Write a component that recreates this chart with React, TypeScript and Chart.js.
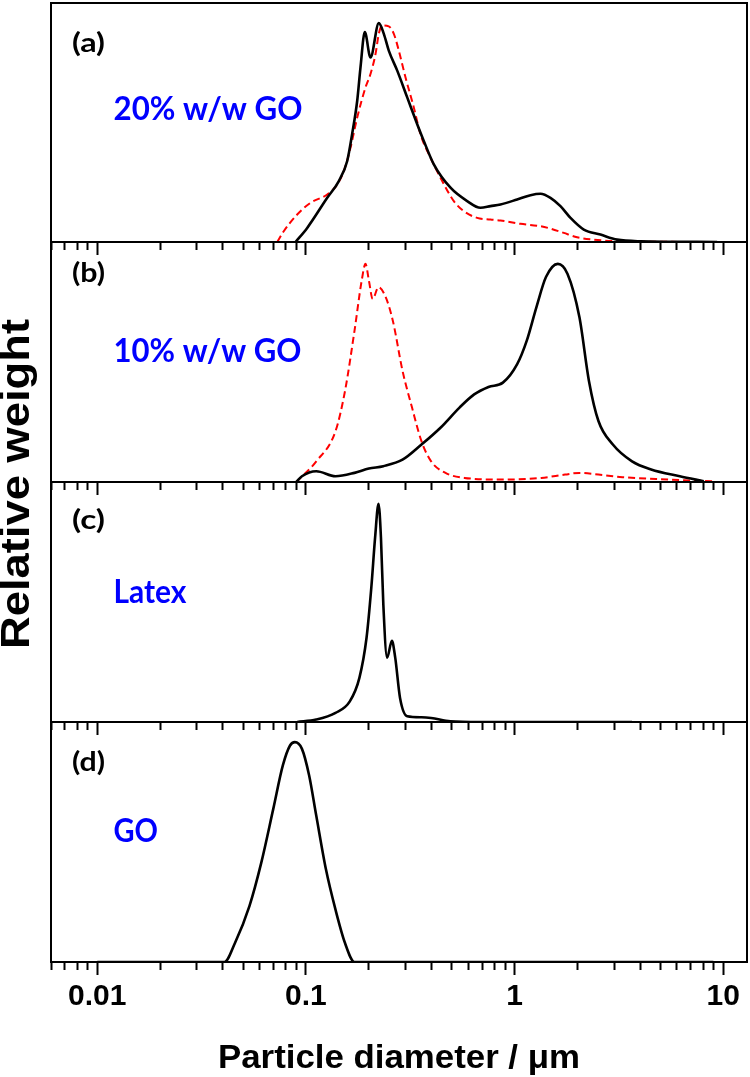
import React, { useEffect, useRef } from 'react';
import { Chart, registerables } from 'chart.js';

Chart.register(...registerables);

// ---------- axis ----------
const X_MIN = 0.006;
const X_MAX = 13;
const tickValues = [
  0.006, 0.007, 0.008, 0.009,
  0.01, 0.02, 0.03, 0.04, 0.05, 0.06, 0.07, 0.08, 0.09,
  0.1, 0.2, 0.3, 0.4, 0.5, 0.6, 0.7, 0.8, 0.9,
  1, 2, 3, 4, 5, 6, 7, 8, 9, 10,
];
const majorTicks = [0.01, 0.1, 1, 10];
const tickLabels = ['0.01', '0.1', '1', '10'];

// ---------- texts ----------
const panelTags = ['(a)', '(b)', '(c)', '(d)'];
const panelNames = ['20% w/w GO', '10% w/w GO', 'Latex', 'GO'];
const xTitle = 'Particle diameter / \u03bcm';
const yTitle = 'Relative weight';

// ---------- (a) 20% w/w GO ----------
const aSolidX = [0.0892, 0.1014, 0.1265, 0.1438, 0.1577, 0.1666, 0.1761, 0.1826, 0.1915, 0.2039, 0.2235, 0.2362, 0.2495, 0.2739, 0.3058, 0.3415, 0.3672, 0.4101, 0.4931, 0.5928, 0.6865, 0.7666, 0.8556, 1.029, 1.192, 1.331, 1.486, 1.659, 1.853, 2.146, 2.58, 3.101, 4.012, 9.35];
const aSolidY = [0, 5.9, 18.5, 25.5, 33.9, 45.3, 59.1, 73.1, 87.8, 77.2, 91.6, 87.1, 80.1, 71.7, 60.5, 49.3, 42.3, 32.5, 22.7, 17.1, 14.3, 15.0, 15.7, 17.8, 19.6, 20.2, 18.5, 15.0, 10.1, 5.2, 3.1, 1.0, 0.3, 0];
const aDashX = [0.0729, 0.0783, 0.0908, 0.1052, 0.1265, 0.1413, 0.1519, 0.1636, 0.1761, 0.193, 0.2039, 0.2156, 0.2235, 0.232, 0.2495, 0.2638, 0.2787, 0.3, 0.3289, 0.354, 0.3954, 0.4414, 0.5114, 0.5709, 0.6618, 0.7666, 0.8556, 1.067, 1.331, 1.486, 1.721, 1.994, 2.396, 3.101, 9.35];
const aDashY = [0, 4.5, 11.5, 16.4, 19.9, 24.1, 29.7, 39.5, 52.1, 64.7, 70.3, 78.7, 87.1, 90.6, 90.2, 87.1, 80.1, 68.9, 56.3, 45.1, 35.3, 26.9, 17.1, 12.9, 10.1, 9.4, 9.0, 7.6, 6.6, 5.6, 3.8, 2.0, 1.0, 0.3, 0];

// ---------- (b) 10% w/w GO ----------
const bSolidX = [0.0899, 0.0957, 0.1121, 0.1386, 0.1709, 0.2003, 0.2349, 0.2904, 0.3579, 0.4414, 0.5445, 0.6402, 0.7498, 0.8789, 1.029, 1.144, 1.272, 1.414, 1.612, 1.792, 2.046, 2.272, 2.523, 2.958, 3.656, 4.513, 6.194, 8.066];
const bSolidY = [0, 2.4, 4.5, 2.4, 3.8, 5.6, 6.6, 9.3, 15.6, 22.6, 31.0, 36.5, 39.6, 41.4, 49.1, 58.9, 72.8, 85.4, 90.9, 86.8, 68.6, 42.1, 25.4, 15.6, 8.6, 5.2, 2.4, 0.3];
const bDashX = [0.0899, 0.1121, 0.1386, 0.1539, 0.1709, 0.1851, 0.193, 0.2003, 0.2089, 0.2228, 0.2412, 0.2609, 0.2904, 0.3225, 0.3579, 0.3981, 0.4666, 0.5753, 0.8789, 1.341, 1.746, 2.046, 2.523, 3.289, 5.578, 8.967];
const bDashY = [0, 8.6, 21.2, 37.9, 63.0, 84.0, 90.9, 84.0, 76.3, 81.2, 77.0, 67.2, 46.3, 31.0, 17.0, 8.6, 3.8, 1.7, 1.0, 1.7, 3.1, 3.8, 3.1, 2.0, 1.0, 0.3];

// ---------- (c) Latex ----------
const cSolidX = [0.0908, 0.1121, 0.1386, 0.1623, 0.1804, 0.1952, 0.2058, 0.2146, 0.2228, 0.2288, 0.2349, 0.2449, 0.2583, 0.2679, 0.2825, 0.3058, 0.3579, 0.3981, 0.4919, 0.6828, 3.656];
const cSolidY = [0, 1.0, 3.8, 8.6, 18.4, 35.1, 56.1, 77.0, 90.9, 77.0, 49.1, 26.8, 33.8, 26.8, 10.0, 2.4, 2.0, 1.7, 0.3, 0, 0];

// ---------- (d) GO ----------
const dSolidX = [0.01, 0.0407, 0.0457, 0.0536, 0.0611, 0.0697, 0.0775, 0.0839, 0.0885, 0.0957, 0.1036, 0.1121, 0.1247, 0.1385, 0.1539, 0.1709, 8.97];
const dSolidY = [0, 0, 7.9, 23.3, 41.4, 63.7, 81.9, 90.2, 91.6, 88.8, 77.7, 60.9, 38.6, 21.9, 7.9, 0, 0];

const panelSeries = [
  [{ x: aSolidX, y: aSolidY, dashed: false }, { x: aDashX, y: aDashY, dashed: true }],
  [{ x: bSolidX, y: bSolidY, dashed: false }, { x: bDashX, y: bDashY, dashed: true }],
  [{ x: cSolidX, y: cSolidY, dashed: false }],
  [{ x: dSolidX, y: dSolidY, dashed: false }],
];

// ---------- layout (pixels) ----------
const W = 750;
const H = 1077;
const PLOT_LEFT = 51;
const PLOT_RIGHT = 747;
const PANEL_TOP = [3, 242, 482, 722];
const PANEL_BOTTOM = [242, 482, 722, 962];
const TAG_CENTER_Y = [43.5, 274, 521, 763];
const NAME_BASE_Y = [120, 361.5, 602.5, 841.5];
const NAME_WIDTH = [189, 188, 73, 44.5];

const AXIS_FONT = '"Liberation Sans", Arial, sans-serif';
const LABEL_FONT = 'Lato, "Open Sans", sans-serif';

function fitText(
  ctx: CanvasRenderingContext2D,
  text: string,
  x: number,
  y: number,
  width: number,
  font: string,
  color: string,
  baseline: CanvasTextBaseline,
  align: CanvasTextAlign,
) {
  ctx.save();
  ctx.font = font;
  ctx.fillStyle = color;
  ctx.textBaseline = baseline;
  ctx.textAlign = align;
  const m = ctx.measureText(text).width;
  ctx.translate(x, y);
  ctx.scale(width / m, 1);
  ctx.fillText(text, 0, 0);
  ctx.restore();
}

function makeDecor(i: number) {
  return {
    id: 'decor' + i,
    afterDraw(chart: any) {
      const { ctx, chartArea: ca } = chart;
      ctx.save();
      ctx.lineWidth = 2;
      ctx.strokeStyle = '#000';
      ctx.strokeRect(ca.left, ca.top, ca.right - ca.left, ca.bottom - ca.top);
      ctx.restore();

      fitText(ctx, panelTags[i], 72, TAG_CENTER_Y[i], 33, `bold 26px ${LABEL_FONT}`, '#000', 'middle', 'left');
      fitText(ctx, panelNames[i], 113.5, NAME_BASE_Y[i], NAME_WIDTH[i], `bold 32px ${LABEL_FONT}`, '#0000ff', 'alphabetic', 'left');

      if (i === 3) {
        fitText(ctx, xTitle, (PLOT_LEFT + PLOT_RIGHT) / 2, 1068, 362, `bold 34px ${AXIS_FONT}`, '#000', 'alphabetic', 'center');
        ctx.save();
        ctx.translate(29, 484);
        ctx.rotate(-Math.PI / 2);
        fitText(ctx, yTitle, 0, 0, 330, `bold 41px ${AXIS_FONT}`, '#000', 'alphabetic', 'center');
        ctx.restore();
      }
    },
  };
}

function makeConfig(i: number): any {
  const last = i === 3;
  return {
    type: 'line',
    data: {
      datasets: panelSeries[i].map((s) => ({
        data: s.x.map((x, j) => ({ x, y: s.y[j] })),
        borderColor: s.dashed ? '#ff0000' : '#000000',
        borderWidth: s.dashed ? 2 : 2.6,
        borderDash: s.dashed ? [7, 4] : [],
        pointRadius: 0,
        fill: false,
        cubicInterpolationMode: 'monotone',
      })),
    },
    options: {
      responsive: false,
      animation: false,
      devicePixelRatio: 1,
      events: [],
      layout: {
        autoPadding: false,
        padding: {
          left: PLOT_LEFT,
          right: W - PLOT_RIGHT,
          top: PANEL_TOP[i],
          bottom: last ? 0 : H - PANEL_BOTTOM[i],
        },
      },
      plugins: { legend: { display: false }, tooltip: { enabled: false }, title: { display: false } },
      scales: {
        x: {
          type: 'logarithmic',
          position: 'bottom',
          min: X_MIN,
          max: X_MAX,
          afterBuildTicks: (scale: any) => {
            scale.ticks = tickValues.map((v) => ({ value: v, major: majorTicks.includes(v) }));
          },
          afterFit: (scale: any) => {
            scale.height = last ? H - PANEL_BOTTOM[i] : 0;
          },
          grid: {
            display: true,
            drawOnChartArea: false,
            drawTicks: true,
            tickLength: 13,
            tickWidth: 2,
            tickColor: '#000',
            tickBorderDash: (ctx: any) => (ctx.tick && majorTicks.includes(ctx.tick.value) ? [] : [7, 40]),
          },
          border: { display: true, color: '#000', width: 2 },
          ticks: {
            display: last,
            autoSkip: false,
            maxRotation: 0,
            minRotation: 0,
            padding: 4,
            color: '#000',
            font: { family: AXIS_FONT, size: 30, weight: 'bold' },
            callback: (value: number) => {
              const k = majorTicks.indexOf(value);
              return k >= 0 ? tickLabels[k] : '';
            },
          },
        },
        y: { display: false, min: 0, max: 100 },
      },
    },
    plugins: [makeDecor(i)],
  };
}

export default function App() {
  const refs = useRef<(HTMLCanvasElement | null)[]>([]);
  useEffect(() => {
    const charts = [0, 1, 2, 3].map((i) => new Chart(refs.current[i] as HTMLCanvasElement, makeConfig(i)));
    return () => charts.forEach((c) => c.destroy());
  }, []);
  return (
    <div style={{ position: 'absolute', left: 0, top: 0, width: W, height: H, background: '#fff' }}>
      {[0, 1, 2, 3].map((i) => (
        <canvas
          key={i}
          ref={(el) => {
            refs.current[i] = el;
          }}
          width={W}
          height={H}
          style={{ position: 'absolute', left: 0, top: 0, width: W, height: H }}
        />
      ))}
    </div>
  );
}
